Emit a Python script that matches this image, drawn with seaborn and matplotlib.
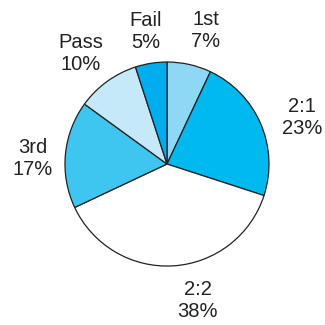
import matplotlib
matplotlib.use("Agg")
import matplotlib.pyplot as plt
import seaborn as sns
import numpy as np

classes = ["1st", "2:1", "2:2", "3rd", "Pass", "Fail"]
shares = [7, 23, 38, 17, 10, 5]
colors = ["#8fd8f5", "#00b9ef", "#ffffff", "#3ec6f0", "#c5e9f9", "#00aeef"]

sns.set_theme(style="white")
plt.rcParams["font.family"] = ["Liberation Sans", "DejaVu Sans"]

fig = plt.figure(figsize=(3.25, 3.25), dpi=100)
ax = fig.add_axes([0, 0, 1, 1])

labels = [f"{c}\n{v}%" for c, v in zip(classes, shares)]
wedges, texts = ax.pie(
    shares,
    labels=labels,
    colors=colors,
    startangle=90,
    counterclock=False,
    labeldistance=1.36,
    wedgeprops=dict(edgecolor="#222222", linewidth=0.9),
    textprops=dict(fontsize=14.5, color="#222222", linespacing=1.2),
)

# small angular nudges (degrees) so the labels clear the rim nicely
nudge = [-3.5, -4.5, 9.0, 3.0, 2.0, 0.0]
radius = [1.36, 1.40, 1.37, 1.32, 1.37, 1.32]
for t, w, dn, r in zip(texts, wedges, nudge, radius):
    ang = np.deg2rad((w.theta1 + w.theta2) / 2 + dn)
    t.set_position((r * np.cos(ang), r * np.sin(ang)))
    t.set_ha("center")
    t.set_va("center")

ax.set_aspect("equal")
ax.set_xlim(-1.637, 1.549)
ax.set_ylim(-1.578, 1.608)
ax.axis("off")

fig.savefig("out.png", dpi=100, facecolor="white")
